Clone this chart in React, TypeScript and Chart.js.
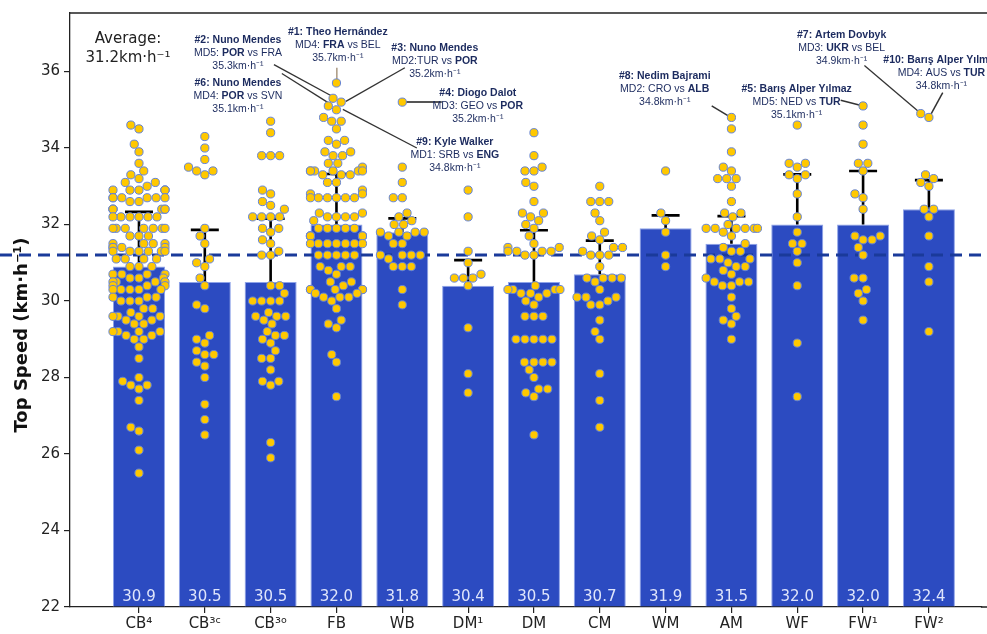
import React, { useEffect, useRef } from "react";
import { Chart, registerables } from "chart.js";

Chart.register(...registerables);

// ---------- data ----------
const categories = ["CB⁴", "CB³ᶜ", "CB³ᵒ", "FB", "WB", "DM¹", "DM", "CM", "WM", "AM", "WF", "FW¹", "FW²"];
const barMeans = [30.9, 30.5, 30.5, 32.0, 31.8, 30.4, 30.5, 30.7, 31.9, 31.5, 32.0, 32.0, 32.4];
const errorTops = [32.33, 31.86, 32.15, 33.32, 32.16, 31.07, 31.85, 31.58, 32.24, 32.22, 33.31, 33.4, 33.16];
const averageSpeed = 31.2;
const yTickValues = [22, 24, 26, 28, 30, 32, 34, 36];

const speedsCB4 = [
  34.6, 34.5, 34.1, 33.9, 33.6, 33.4, 33.3, 33.2, 33.1, 33.1, 33.0,
  32.9, 32.9, 32.9, 32.9, 32.9, 32.9, 32.7, 32.7, 32.7, 32.7, 32.7, 32.7, 32.6, 32.6,
  32.4, 32.4, 32.4, 32.4, 32.4, 32.4, 32.2, 32.2, 32.2, 32.2, 32.2, 32.2,
  31.9, 31.9, 31.9, 31.9, 31.9, 31.9, 31.9, 31.7, 31.7, 31.7, 31.5, 31.5, 31.5, 31.5,
  31.4, 31.4, 31.4, 31.4, 31.3, 31.3, 31.3, 31.3, 31.3, 31.3, 31.1, 31.1, 31.1, 31.1,
  30.9, 30.9, 30.9, 30.7, 30.7, 30.7, 30.7, 30.6, 30.6, 30.6, 30.5, 30.5, 30.5, 30.5,
  30.4, 30.4, 30.4, 30.3, 30.3, 30.3, 30.3, 30.3, 30.1, 30.1, 30.1, 30.0, 30.0, 30.0,
  29.8, 29.8, 29.7, 29.6, 29.6, 29.6, 29.6, 29.5, 29.5, 29.4, 29.4, 29.2, 29.2, 29.2, 29.2,
  29.1, 29.1, 29.0, 29.0, 28.8, 28.5, 28.0, 27.9, 27.8, 27.8, 27.7, 27.4, 26.7, 26.6, 26.1, 25.5,
];
const speedsCB3c = [
  34.3, 34.0, 33.7, 33.5, 33.4, 33.4, 33.3, 31.9, 31.7, 31.5, 31.1, 31.0, 30.9, 30.6, 30.4,
  29.9, 29.8, 29.1, 29.0, 28.9, 28.7, 28.6, 28.6, 28.4, 28.3, 28.0, 27.3, 26.9, 26.5,
];
const speedsCB3o = [
  34.7, 34.4, 33.8, 33.8, 33.8, 32.9, 32.8, 32.6, 32.5, 32.4, 32.2, 32.2, 32.2, 32.2,
  31.9, 31.9, 31.8, 31.6, 31.5, 31.3, 31.2, 31.2, 30.4, 30.4, 30.2, 30.0, 30.0, 30.0, 30.0,
  29.7, 29.6, 29.6, 29.6, 29.5, 29.4, 29.2, 29.1, 29.1, 29.0, 28.9, 28.7, 28.5, 28.5,
  28.2, 27.9, 27.9, 27.8, 26.3, 25.9,
];
const speedsFB = [
  35.7, 35.3, 35.2, 35.1, 35.0, 34.8, 34.7, 34.7, 34.5, 34.2, 34.2, 34.1, 33.9, 33.9, 33.8, 33.8,
  33.6, 33.6, 33.5, 33.4, 33.4, 33.4, 33.4, 33.4, 33.4, 33.3, 33.3, 33.3, 33.1, 33.1, 32.9,
  32.8, 32.8, 32.7, 32.7, 32.7, 32.7, 32.7, 32.7, 32.3, 32.3, 32.2, 32.2, 32.2, 32.2, 32.1,
  31.9, 31.9, 31.9, 31.9, 31.9, 31.7, 31.7, 31.7, 31.7, 31.7, 31.7, 31.7,
  31.5, 31.5, 31.5, 31.5, 31.5, 31.5, 31.5, 31.2, 31.2, 31.2, 31.2, 31.2,
  30.9, 30.9, 30.9, 30.8, 30.7, 30.5, 30.5, 30.4, 30.3, 30.3, 30.3, 30.3, 30.3, 30.2, 30.2,
  30.1, 30.1, 30.1, 30.0, 29.8, 29.5, 29.4, 29.3, 28.6, 28.4, 27.5,
];
const speedsWB = [
  35.2, 33.5, 33.1, 32.7, 32.7, 32.3, 32.2, 32.1, 32.0, 32.0, 31.8, 31.8, 31.8, 31.8,
  31.7, 31.7, 31.5, 31.5, 31.2, 31.2, 31.2, 31.2, 31.1, 30.9, 30.9, 30.9, 30.3, 29.9,
];
const speedsDM1 = [32.9, 32.2, 31.3, 31.0, 30.7, 30.6, 30.6, 30.6, 30.4, 29.3, 28.1, 27.6];
const speedsDM = [
  34.4, 33.8, 33.5, 33.4, 33.4, 33.1, 33.0, 32.6, 32.3, 32.3, 32.2, 32.1, 32.0, 31.9, 31.7, 31.5,
  31.4, 31.4, 31.3, 31.3, 31.3, 31.3, 31.2, 31.2, 30.4, 30.3, 30.3, 30.3, 30.3, 30.2, 30.2, 30.2,
  30.1, 30.0, 29.9, 29.6, 29.6, 29.6, 29.0, 29.0, 29.0, 29.0, 29.0, 28.4, 28.4, 28.4, 28.4,
  28.2, 28.0, 27.7, 27.7, 27.6, 27.5, 26.5,
];
const speedsCM = [
  33.0, 32.6, 32.6, 32.6, 32.3, 32.1, 31.8, 31.7, 31.6, 31.4, 31.4, 31.3, 31.2, 31.2, 31.2,
  30.9, 30.6, 30.6, 30.6, 30.6, 30.5, 30.3, 30.1, 30.1, 30.1, 30.0, 29.9, 29.9, 29.5, 29.2,
  29.0, 28.1, 27.4, 26.7,
];
const speedsWM = [33.4, 32.3, 32.1, 31.8, 31.2, 30.9];
const speedsAM = [
  34.8, 34.5, 33.9, 33.5, 33.4, 33.2, 33.2, 33.2, 33.0, 32.6, 32.3, 32.3, 32.2, 32.0,
  31.9, 31.9, 31.9, 31.9, 31.9, 31.9, 31.8, 31.7, 31.5, 31.4, 31.3, 31.3, 31.1, 31.1, 31.1,
  31.0, 30.9, 30.9, 30.8, 30.7, 30.6, 30.5, 30.5, 30.5, 30.4, 30.4, 30.1, 29.8, 29.6, 29.5,
  29.4, 29.0,
];
const speedsWF = [34.6, 33.6, 33.6, 33.5, 33.3, 33.3, 33.2, 32.8, 32.2, 31.8, 31.5, 31.5, 31.3, 31.0, 30.4, 28.9, 27.5];
const speedsFW1 = [
  35.1, 34.6, 34.1, 33.6, 33.6, 33.4, 32.8, 32.7, 32.4, 31.7, 31.7, 31.6, 31.6, 31.4, 31.2,
  30.6, 30.6, 30.3, 30.2, 30.0, 29.5,
];
const speedsFW2 = [34.9, 34.8, 33.3, 33.2, 33.1, 33.0, 32.4, 32.4, 32.2, 31.7, 30.9, 30.5, 29.2];

const speedsByCategory = [
  speedsCB4, speedsCB3c, speedsCB3o, speedsFB, speedsWB, speedsDM1, speedsDM,
  speedsCM, speedsWM, speedsAM, speedsWF, speedsFW1, speedsFW2,
];

// call-outs: text anchor and leader line in data coordinates (category units, km/h)
const callouts = [
  { rank: "#1: Theo Hernández", md: "MD4: ", t1: "FRA", t2: "BEL", bold: 1, speed: "35.7", tx: 3.02, ty: 37.04, from: [3.006, 36.1], to: [3.006, 35.7], color: "#9c876c", lw: 1.3 },
  { rank: "#2: Nuno Mendes", md: "MD5: ", t1: "POR", t2: "FRA", bold: 1, speed: "35.3", tx: 1.503, ty: 36.83, from: [2.05, 36.18], to: [2.99, 35.3], color: "#333", lw: 1.3 },
  { rank: "#3: Nuno Mendes", md: "MD2:", t1: "TUR", t2: "POR", bold: 2, speed: "35.2", tx: 4.494, ty: 36.62, from: [4.039, 36.1], to: [3.143, 35.22], color: "#333", lw: 1.3 },
  { rank: "#4: Diogo Dalot", md: "MD3: ", t1: "GEO", t2: "POR", bold: 2, speed: "35.2", tx: 5.147, ty: 35.43, from: [4.6, 35.2], to: [3.993, 35.2], color: "#555", lw: 2 },
  { rank: "#5: Barış Alper Yılmaz", md: "MD5: ", t1: "NED", t2: "TUR", bold: 2, speed: "35.1", tx: 9.991, ty: 35.53, from: [10.66, 35.25], to: [11.0, 35.1], color: "#333", lw: 1.5 },
  { rank: "#6: Nuno Mendes", md: "MD4: ", t1: "POR", t2: "SVN", bold: 1, speed: "35.1", tx: 1.503, ty: 35.69, from: [2.17, 35.95], to: [2.915, 35.14], color: "#333", lw: 1.3 },
  { rank: "#7: Artem Dovbyk", md: "MD3: ", t1: "UKR", t2: "BEL", bold: 1, speed: "34.9", tx: 10.674, ty: 36.96, from: [11.02, 36.16], to: [11.86, 34.93], color: "#333", lw: 1.3 },
  { rank: "#8: Nedim Bajrami", md: "MD2: ", t1: "CRO", t2: "ALB", bold: 2, speed: "34.8", tx: 7.987, ty: 35.87, from: [8.7, 35.1], to: [8.99, 34.8], color: "#333", lw: 1.5 },
  { rank: "#9: Kyle Walker", md: "MD1: ", t1: "SRB", t2: "ENG", bold: 2, speed: "34.8", tx: 4.798, ty: 34.15, from: [4.221, 34.0], to: [3.097, 35.01], color: "#333", lw: 1.3 },
  { rank: "#10: Barış Alper Yılmaz", md: "MD4: ", t1: "AUS", t2: "TUR", bold: 2, speed: "34.8", tx: 12.19, ty: 36.29, from: [12.21, 35.45], to: [12.03, 34.88], color: "#333", lw: 1.5 },
];
const averageLabelPos = { x: -0.167, y: 36.86 };

// ---------- styles ----------
const BAR_COLOR = "#2c4bc1";
const BAR_EDGE = "#8ea3e8";
const POINT_FILL = "#ffc800";
const POINT_EDGE = "#6383d9";
const AVG_COLOR = "#1a3a9a";
const TEXT_NAVY = "#1b2a5e";
const BASE_FONT = "'DejaVu Sans', sans-serif";
const NOTE_FONT = "'Liberation Sans', Arial, sans-serif";

function swarmOffsets(ys: number[], d: number, half: number): number[] {
  const order = ys.map((y, i) => i).sort((a, b) => ys[b] - ys[a]);
  const placed: { x: number; y: number }[] = [];
  const out = new Array(ys.length).fill(0);
  for (const idx of order) {
    const y = ys[idx];
    const neigh = placed.filter((q) => Math.abs(q.y - y) < d);
    const cands = [0];
    for (const q of neigh) {
      const dy = q.y - y;
      const dx = Math.sqrt(Math.max(0, d * d - dy * dy));
      cands.push(q.x - dx, q.x + dx);
    }
    const sorted = cands.map((c, k) => ({ c, k })).sort((a, b) => Math.abs(a.c) - Math.abs(b.c) || a.k - b.k);
    let chosen = sorted[sorted.length - 1].c;
    for (const { c } of sorted) {
      let ok = true;
      for (const q of neigh) {
        if ((c - q.x) ** 2 + (y - q.y) ** 2 < d * d - 1e-6) { ok = false; break; }
      }
      if (ok) { chosen = c; break; }
    }
    placed.push({ x: chosen, y });
    out[idx] = chosen;
  }
  return out.map((o) => Math.max(-half, Math.min(half, o)));
}

const decorPlugin = {
  id: "decor",
  afterDatasetDraw(chart: any, args: any) {
    if (args.index !== 0) return;
    const { ctx, scales } = chart;
    const xs = scales.x, ys = scales.y;
    ctx.save();
    ctx.strokeStyle = "#000";
    ctx.lineWidth = 2.6;
    barMeans.forEach((m, i) => {
      const px = xs.getPixelForValue(i);
      const y0 = ys.getPixelForValue(m);
      const y1 = ys.getPixelForValue(errorTops[i]);
      ctx.beginPath();
      ctx.moveTo(px, y0);
      ctx.lineTo(px, y1);
      ctx.moveTo(px - 14, y1);
      ctx.lineTo(px + 14, y1);
      ctx.stroke();
    });
    const ay = ys.getPixelForValue(averageSpeed);
    ctx.strokeStyle = AVG_COLOR;
    ctx.lineWidth = 3;
    ctx.setLineDash([12, 7]);
    ctx.beginPath();
    ctx.moveTo(0, ay);
    ctx.lineTo(chart.width, ay);
    ctx.stroke();
    ctx.setLineDash([]);
    callouts.forEach((c) => {
      ctx.strokeStyle = c.color;
      ctx.lineWidth = c.lw;
      ctx.beginPath();
      ctx.moveTo(xs.getPixelForValue(c.from[0]), ys.getPixelForValue(c.from[1]));
      ctx.lineTo(xs.getPixelForValue(c.to[0]), ys.getPixelForValue(c.to[1]));
      ctx.stroke();
    });
    ctx.restore();
  },
  afterDatasetsDraw(chart: any) {
    const { ctx, scales, chartArea } = chart;
    const xs = scales.x;
    ctx.save();
    ctx.font = `15px ${BASE_FONT}`;
    ctx.fillStyle = "#dfe5fb";
    ctx.textAlign = "center";
    ctx.textBaseline = "middle";
    barMeans.forEach((m, i) => {
      ctx.fillText(m.toFixed(1), xs.getPixelForValue(i), chartArea.bottom - 10);
    });
    // frame: top line and extension of the bottom axis to the figure edge
    ctx.strokeStyle = "#222";
    ctx.lineWidth = 1.3;
    ctx.beginPath();
    ctx.moveTo(chartArea.left, chartArea.top);
    ctx.lineTo(chart.width, chartArea.top);
    ctx.moveTo(chartArea.right - 1, chartArea.bottom);
    ctx.lineTo(chart.width, chartArea.bottom);
    ctx.stroke();
    ctx.restore();
  },
  afterDraw(chart: any) {
    const { ctx, scales } = chart;
    const xs = scales.x, ys = scales.y;
    ctx.save();
    ctx.textBaseline = "middle";
    callouts.forEach((c) => {
      const cx = xs.getPixelForValue(c.tx);
      const cy = ys.getPixelForValue(c.ty);
      ctx.fillStyle = TEXT_NAVY;
      ctx.textAlign = "center";
      ctx.font = `bold 10.5px ${NOTE_FONT}`;
      ctx.fillText(c.rank, cx, cy);
      const segs: [string, boolean][] = [
        [c.md, false],
        [c.t1, c.bold === 1],
        [" vs ", false],
        [c.t2, c.bold === 2],
      ];
      let total = 0;
      const widths = segs.map(([s, b]) => {
        ctx.font = `${b ? "bold " : ""}10.5px ${NOTE_FONT}`;
        const w = ctx.measureText(s).width;
        total += w;
        return w;
      });
      let x = cx - total / 2;
      ctx.textAlign = "left";
      segs.forEach(([s, b], k) => {
        ctx.font = `${b ? "bold " : ""}10.5px ${NOTE_FONT}`;
        ctx.fillText(s, x, cy + 13);
        x += widths[k];
      });
      ctx.textAlign = "center";
      ctx.font = `10.5px ${NOTE_FONT}`;
      ctx.fillText(`${c.speed}km·h⁻¹`, cx, cy + 26);
    });
    const axp = xs.getPixelForValue(averageLabelPos.x);
    const ayp = ys.getPixelForValue(averageLabelPos.y);
    ctx.fillStyle = "#222";
    ctx.font = `15px ${BASE_FONT}`;
    ctx.textAlign = "center";
    ctx.fillText("Average:", axp, ayp);
    ctx.fillText(`${averageSpeed.toFixed(1)}km·h⁻¹`, axp, ayp + 19);
    ctx.translate(22, 335);
    ctx.rotate(-Math.PI / 2);
    ctx.font = `bold 18px ${BASE_FONT}`;
    ctx.fillStyle = "#111";
    ctx.fillText("Top Speed (km·h⁻¹)", 0, 0);
    ctx.restore();
  },
};

export default function App() {
  const canvasRef = useRef<HTMLCanvasElement | null>(null);

  useEffect(() => {
    const canvas = canvasRef.current;
    if (!canvas) return;
    const initialPoints: { x: number; y: number }[] = [];
    speedsByCategory.forEach((arr, i) => arr.forEach((v) => initialPoints.push({ x: i, y: v })));

    const chart = new Chart(canvas, {
      type: "bar",
      data: {
        datasets: [
          {
            type: "bar",
            data: barMeans.map((v, i) => ({ x: i, y: v })),
            backgroundColor: BAR_COLOR,
            borderColor: BAR_EDGE,
            borderWidth: 1,
            base: 22,
            barPercentage: 1,
            categoryPercentage: 0.79,
            order: 2,
          } as any,
          {
            type: "scatter",
            data: initialPoints,
            pointRadius: 4.1,
            pointBackgroundColor: POINT_FILL,
            pointBorderColor: POINT_EDGE,
            pointBorderWidth: 1,
            order: 1,
          } as any,
        ],
      },
      options: {
        responsive: false,
        animation: false,
        devicePixelRatio: 1,
        layout: { padding: { top: 10, left: 0, right: 0, bottom: 0 } },
        plugins: { legend: { display: false }, tooltip: { enabled: false } },
        scales: {
          x: {
            type: "linear",
            offset: false,
            min: -1.048,
            max: 12.805,
            afterBuildTicks: (s: any) => { s.ticks = categories.map((_, i) => ({ value: i })); },
            afterFit: (s: any) => { s.height = 27; },
            grid: { display: true, offset: false, drawOnChartArea: false, drawTicks: true, tickLength: 6, color: "#222", lineWidth: 1.2 },
            border: { display: true, color: "#222", width: 1.3 },
            ticks: {
              callback: (v: any) => categories[Math.round(Number(v))] ?? "",
              font: { family: BASE_FONT, size: 15 },
              color: "#222",
              padding: 2,
              autoSkip: false,
              maxRotation: 0,
            },
          },
          y: {
            type: "linear",
            min: 22,
            max: 37.53,
            afterBuildTicks: (s: any) => { s.ticks = yTickValues.map((v) => ({ value: v })); },
            afterFit: (s: any) => { s.width = 70; },
            grid: { display: true, drawOnChartArea: false, drawTicks: true, tickLength: 6, color: "#222", lineWidth: 1.2 },
            border: { display: true, color: "#222", width: 1.3 },
            ticks: {
              font: { family: BASE_FONT, size: 15 },
              color: "#222",
              padding: 4,
              callback: (v: any) => String(v),
            },
          },
        },
      } as any,
      plugins: [decorPlugin],
    });

    const xs: any = chart.scales.x;
    const ys: any = chart.scales.y;
    const swarmPoints: { x: number; y: number }[] = [];
    speedsByCategory.forEach((arr, i) => {
      const cx = xs.getPixelForValue(i);
      const pys = arr.map((v) => ys.getPixelForValue(v));
      const offs = swarmOffsets(pys, 9, 26);
      arr.forEach((v, k) => swarmPoints.push({ x: xs.getValueForPixel(cx + offs[k]), y: v }));
    });
    (chart.data.datasets[1] as any).data = swarmPoints;
    chart.update();

    return () => chart.destroy();
  }, []);

  return (
    <div style={{ position: "absolute", left: 0, top: 0, width: 987, height: 634, background: "#fff" }}>
      <canvas ref={canvasRef} width={987} height={634} style={{ width: 987, height: 634, display: "block" }} />
    </div>
  );
}
